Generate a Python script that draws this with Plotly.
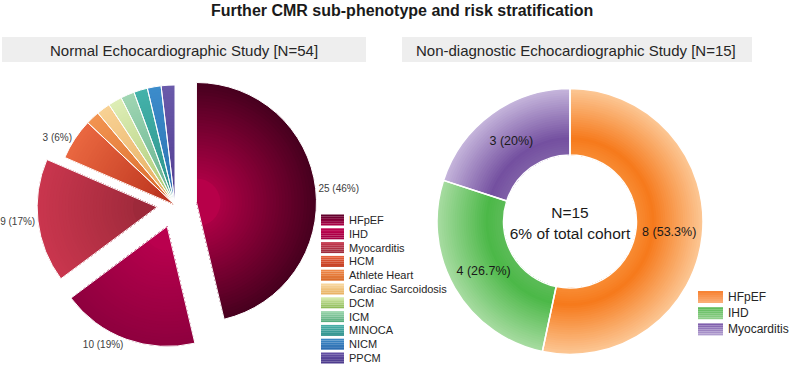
import plotly.graph_objects as go

W, H = 792, 368

# ---------------- data ----------------
title_text = "Further CMR sub-phenotype and risk stratification"
left_title = "Normal Echocardiographic Study [N=54]"
right_title = "Non-diagnostic Echocardiographic Study [N=15]"

left_labels = ["HFpEF", "IHD", "Myocarditis", "HCM", "Athlete Heart", "Cardiac Sarcoidosis",
               "DCM", "ICM", "MINOCA", "NICM", "PPCM"]
left_values = [25, 10, 9, 3, 1, 1, 1, 1, 1, 1, 1]

right_labels = ["HFpEF", "IHD", "Myocarditis"]
right_values = [8, 4, 3]
right_center_text = "N=15<br>6% of total cohort"

# ---------------- styles ----------------
FONT = "Liberation Sans, Arial, sans-serif"
left_pull = [0.18, 0.19, 0.15, 0, 0, 0, 0, 0, 0, 0, 0]
left_inner = ["#c4004e", "#bf0050", "#982838", "#b8301c", "#d8682a", "#e4aa5c",
              "#a8c870", "#5eae8c", "#2a9088", "#2c70b0", "#503c90"]
left_outer = ["#46001e", "#8e003e", "#ca364e", "#ea6840", "#f29450", "#f8d294",
              "#deedb6", "#a0d6b2", "#44b2aa", "#3c8ccb", "#6a5aaa"]
left_leg_top = ["#5a0028", "#c0004e", "#c83a50", "#e8603a", "#f08848", "#f8d8a0",
                "#d8ecb0", "#a0d8b0", "#48b0a8", "#3c88c4", "#6450a4"]
left_leg_bot = ["#b00048", "#a00042", "#9a2a3a", "#c0381c", "#d86a28", "#e8b060",
                "#88b850", "#50a878", "#30908c", "#2c6cb0", "#4c3a8c"]

right_stops = [
    [(0.0, "#f88c34"), (0.25, "#f67a1c"), (1.0, "#fcc896")],
    [(0.0, "#5cbc58"), (0.25, "#4cb848"), (1.0, "#a8dca2")],
    [(0.0, "#8060a8"), (0.25, "#7450a0"), (1.0, "#c6b6dc")],
]
right_leg_top = ["#f78030", "#5cba58", "#7a58a8"]
right_leg_bot = ["#fab07a", "#92d08c", "#b4a2d2"]


def hex2rgb(h):
    h = h.lstrip("#")
    return tuple(int(h[i:i + 2], 16) for i in (0, 2, 4))


def mix(c1, c2, t):
    a, b = hex2rgb(c1), hex2rgb(c2)
    return "rgb(%d,%d,%d)" % tuple(round(a[i] + (b[i] - a[i]) * t) for i in range(3))


def grad(stops, t):
    for (p0, c0), (p1, c1) in zip(stops[:-1], stops[1:]):
        if t <= p1:
            return mix(c0, c1, max(0.0, (t - p0) / (p1 - p0)))
    return mix(stops[-1][1], stops[-1][1], 0)


def px_dom(cx, cy, s):
    return dict(x=[(cx - s / 2) / W, (cx + s / 2) / W],
                y=[1 - (cy + s / 2) / H, 1 - (cy - s / 2) / H])


def fmt_pct(v, total, dec):
    p = v / total * 100
    s = f"{p:.{dec}f}"
    if "." in s:
        s = s.rstrip("0").rstrip(".")
    return s


fig = go.Figure()

# ---------------- left pie (layered rings for radial gradient) ----------------
LCX, LCY, LR, LMIN, NL = 175, 205, 120, 24, 32
offs = [p * LR for p in left_pull]
maxoff = max(offs)
radii = [LR - k * (LR - LMIN) / (NL - 1) for k in range(NL)]
for k, r in enumerate(radii):
    rn = radii[k + 1] if k + 1 < NL else 0
    t = ((r + rn) / 2) / LR
    cols = [mix(a, b, t) for a, b in zip(left_inner, left_outer)]
    fig.add_trace(go.Pie(
        labels=left_labels, values=left_values, sort=False, direction="clockwise",
        rotation=0, pull=[o / r for o in offs], domain=px_dom(LCX, LCY, 2 * r + 2 * maxoff),
        marker=dict(colors=cols, line=dict(width=0)), textinfo="none",
        hoverinfo="skip", showlegend=False))

ltot = sum(left_values)
left_text = [f"{v} ({fmt_pct(v, ltot, 0)}%)" if v > 1 else "" for v in left_values]
fig.add_trace(go.Pie(
    labels=left_labels, values=left_values, sort=False, direction="clockwise",
    rotation=0, pull=left_pull, domain=px_dom(LCX, LCY, 2 * LR + 2 * maxoff),
    marker=dict(colors=["rgba(0,0,0,0)"] * len(left_values), line=dict(color="white", width=1)),
    text=left_text, textinfo="text", textposition="outside",
    outsidetextfont=dict(family=FONT, size=10, color="#404040"),
    hoverinfo="label+value+percent", showlegend=False))

# ---------------- right donut (layered rings) ----------------
RCX, RCY, RR, RH, NR = 570, 221.5, 133, 66.5, 30
rradii = [RR - k * (RR - RH) / NR for k in range(NR)]
for k, r in enumerate(rradii):
    rn = rradii[k + 1] if k + 1 < NR else RH
    t = ((r + rn) / 2 - RH) / (RR - RH)
    cols = [grad(st, t) for st in right_stops]
    fig.add_trace(go.Pie(
        labels=right_labels, values=right_values, sort=False, direction="clockwise",
        rotation=0, hole=RH / r, domain=px_dom(RCX, RCY, 2 * r),
        marker=dict(colors=cols, line=dict(width=0)), textinfo="none",
        hoverinfo="skip", showlegend=False))

rtot = sum(right_values)
right_text = [f"{v} ({fmt_pct(v, rtot, 1)}%)" for v in right_values]
fig.add_trace(go.Pie(
    labels=right_labels, values=right_values, sort=False, direction="clockwise",
    rotation=0, hole=RH / RR, domain=px_dom(RCX, RCY, 2 * RR),
    marker=dict(colors=["rgba(0,0,0,0)"] * 3, line=dict(color="white", width=1.5)),
    text=right_text, textinfo="text", textposition="inside",
    insidetextorientation="horizontal",
    insidetextfont=dict(family=FONT, size=12.5, color="#1a1a1a"),
    title=dict(text=right_center_text, position="middle center",
               font=dict(family=FONT, size=15.5, color="#1a1a1a")),
    hoverinfo="label+value+percent", showlegend=False))

# ---------------- layout: titles, boxes, custom legends ----------------
shapes, annotations = [], []


def px_x(x):
    return x / W


def px_y(y):
    return 1 - y / H


# subtitle boxes
for (x0, x1, txt, tx) in [(2, 366, left_title, 184), (402, 752, right_title, 576)]:
    shapes.append(dict(type="rect", xref="paper", yref="paper", x0=px_x(x0), x1=px_x(x1),
                       y0=px_y(62), y1=px_y(37), fillcolor="#eeeeee", line=dict(width=0),
                       layer="below"))
    annotations.append(dict(text=txt, xref="paper", yref="paper", x=px_x(tx), y=px_y(50),
                            xanchor="center", yanchor="middle", showarrow=False,
                            font=dict(family=FONT, size=15, color="#262626")))

annotations.append(dict(text="<b>" + title_text + "</b>", xref="paper", yref="paper",
                        x=px_x(402), y=px_y(10), xanchor="center", yanchor="middle",
                        showarrow=False, font=dict(family=FONT, size=16, color="#1a1a1a")))


def legend(labels, tops, bots, x0, wsw, y0, dy, hsw, tx, fs):
    nst = 6
    for i, lab in enumerate(labels):
        yc = y0 + i * dy
        for j in range(nst):
            ya = yc - hsw / 2 + j * hsw / nst
            yb = ya + hsw / nst
            shapes.append(dict(type="rect", xref="paper", yref="paper",
                               x0=px_x(x0), x1=px_x(x0 + wsw), y0=px_y(yb), y1=px_y(ya),
                               fillcolor=mix(tops[i], bots[i], (j + 0.5) / nst),
                               line=dict(width=0)))
        annotations.append(dict(text=lab, xref="paper", yref="paper", x=px_x(tx), y=px_y(yc),
                                xanchor="left", yanchor="middle", showarrow=False,
                                font=dict(family=FONT, size=fs, color="#262626")))


legend(left_labels, left_leg_top, left_leg_bot, 321, 23, 220, 13.8, 11, 347, 11)
legend(right_labels, right_leg_top, right_leg_bot, 698, 25, 297, 16.2, 12, 726, 12)

fig.update_layout(
    width=W, height=H, margin=dict(l=0, r=0, t=0, b=0, pad=0, autoexpand=False),
    paper_bgcolor="white", plot_bgcolor="white", showlegend=False,
    font=dict(family=FONT), shapes=shapes, annotations=annotations,
)

fig.write_html("out.html")
